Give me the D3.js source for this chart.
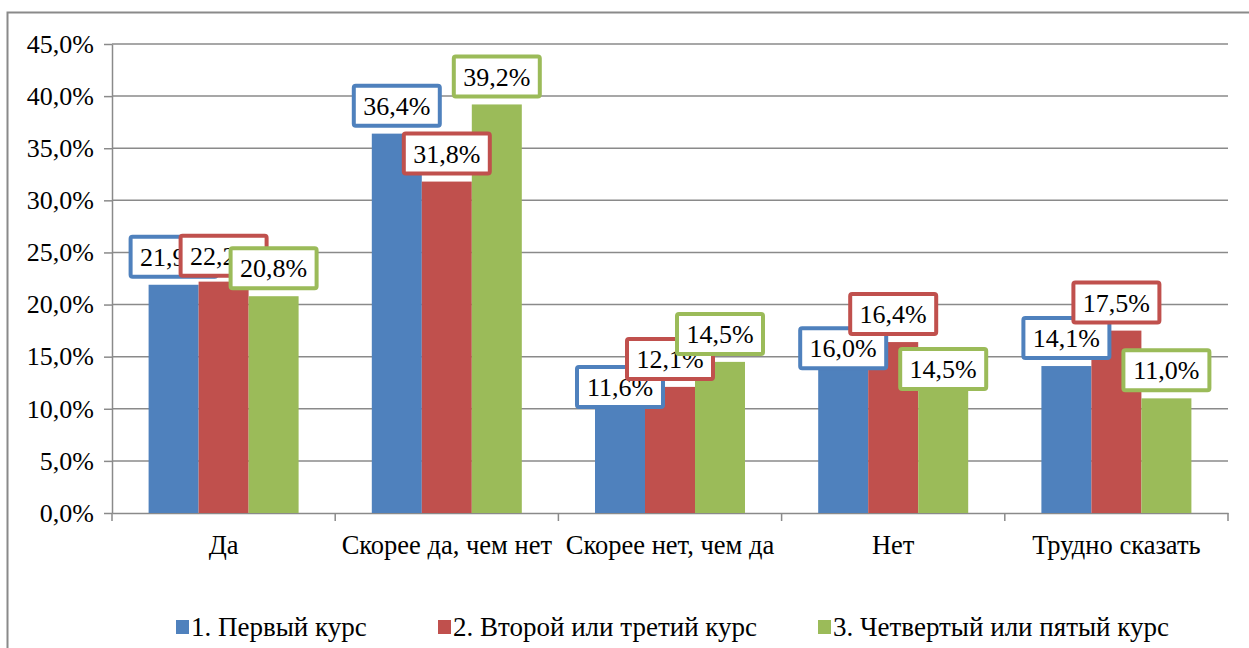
<!DOCTYPE html>
<html><head><meta charset="utf-8">
<script src="https://cdn.jsdelivr.net/npm/d3@7/dist/d3.min.js"></script>
<style>body{margin:0;background:#fff;} svg{display:block;} svg text{font-family:"Liberation Serif","Times New Roman",Tinos,"DejaVu Serif",serif !important;}</style>
</head><body>
<svg id="chart" width="1249" height="648"></svg>
<script>
const categories = ["Да", "Скорее да, чем нет", "Скорее нет, чем да", "Нет", "Трудно сказать"];
const seriesNames = ["1. Первый курс", "2. Второй или третий курс", "3. Четвертый или пятый курс"];
const series1 = [21.9, 36.4, 11.6, 16.0, 14.1];
const series2 = [22.2, 31.8, 12.1, 16.4, 17.5];
const series3 = [20.8, 39.2, 14.5, 14.5, 11.0];
const yTicks = [0, 5, 10, 15, 20, 25, 30, 35, 40, 45];
const colors = ["#4F81BD", "#C0504D", "#9BBB59"];
// manual label displacement (px down) for overlapping labels
const labelShift = [[0, 0, 23, 30, 0], [2, 0, 0, 0, 0], [0, 0, 0, 35, 0]];

const svg = d3.select("#chart");
const W = 1249, H = 648;
const m = {left: 112, right: 1228, top: 44, bottom: 513};

// outer frame
svg.append("path").attr("d", `M7.5,${H} L7.5,12.5 L${W},12.5`).attr("fill", "none")
  .attr("stroke", "#8a8a8a").attr("stroke-width", 2);

const y = d3.scaleLinear().domain([0, 45]).range([m.bottom, m.top]);
const x0 = d3.scaleBand().domain(categories).range([m.left, m.right]).paddingInner(0).paddingOuter(0);
const bw = 50;
const x1 = d3.scaleBand().domain([0, 1, 2]).range([0, bw * 3]);

// gridlines + y ticks
const yAxis = d3.axisLeft(y).tickValues(yTicks).tickSize(8).tickSizeOuter(0)
  .tickFormat(d => d3.format(".1f")(d).replace(".", ",") + "%");
const gy = svg.append("g").attr("transform", `translate(${m.left},0)`).call(yAxis);
gy.select(".domain").attr("stroke", "#8a8a8a").attr("stroke-width", 1.5);
gy.selectAll(".tick line").attr("stroke", "#8a8a8a").attr("stroke-width", 1.5);
gy.selectAll(".tick text").attr("font-size", 26).attr("fill", "#000").attr("x", -18);
svg.append("g").selectAll("line").data(yTicks.filter(d => d > 0)).join("line")
  .attr("x1", m.left).attr("x2", m.right).attr("y1", d => y(d)).attr("y2", d => y(d))
  .attr("stroke", "#8a8a8a").attr("stroke-width", 1.5);

// x axis
const xAxis = d3.axisBottom(x0).tickSize(0).tickSizeOuter(0);
const gx = svg.append("g").attr("transform", `translate(0,${m.bottom})`).call(xAxis);
gx.select(".domain").attr("stroke", "#8a8a8a").attr("stroke-width", 1.5);
gx.selectAll(".tick text").attr("font-size", 26.5).attr("fill", "#000").attr("dy", 0).attr("y", 41);
const bounds = categories.map(c => x0(c)).concat([m.right]);
svg.append("g").selectAll("line").data(bounds).join("line")
  .attr("x1", d => d).attr("x2", d => d).attr("y1", m.bottom).attr("y2", m.bottom + 8)
  .attr("stroke", "#8a8a8a").attr("stroke-width", 1.5);

const allSeries = [series1, series2, series3];
const data = [];
allSeries.forEach((s, si) => s.forEach((v, ci) => data.push({si, ci, v})));
const bx = d => x0(categories[d.ci]) + x0.bandwidth() / 2 - bw * 1.5 + x1(d.si);

svg.append("g").selectAll("rect").data(data).join("rect")
  .attr("x", bx).attr("width", x1.bandwidth())
  .attr("y", d => y(d.v)).attr("height", d => y(0) - y(d.v))
  .attr("fill", d => colors[d.si]);

// labels
const bwBox = 86, bhBox = 40;
const lg = svg.append("g").selectAll("g").data(data).join("g")
  .attr("transform", d => {
    const cx = bx(d) + bw / 2;
    const bottom = y(d.v) - 8 + labelShift[d.si][d.ci];
    return `translate(${cx},${bottom - bhBox / 2})`;
  });
lg.append("rect").attr("x", -bwBox / 2).attr("y", -bhBox / 2).attr("width", bwBox).attr("height", bhBox)
  .attr("fill", "#fff").attr("stroke", d => colors[d.si]).attr("stroke-width", 4).attr("rx", 2);
lg.append("text").attr("text-anchor", "middle").attr("dy", "0.35em")
  .attr("font-size", 26).attr("fill", "#000")
  .text(d => d3.format(".1f")(d.v).replace(".", ",") + "%");

// legend
const legendX = [176, 438, 818];
const leg = svg.append("g").selectAll("g").data(seriesNames).join("g")
  .attr("transform", (d, i) => `translate(${legendX[i]},627)`);
leg.append("rect").attr("x", 0).attr("y", -7).attr("width", 13).attr("height", 14).attr("fill", (d, i) => colors[i]);
leg.append("text").attr("x", 15).attr("dy", "0.35em").attr("font-size", 27).attr("fill", "#000")
  .text(d => d);
</script>
</body></html>
